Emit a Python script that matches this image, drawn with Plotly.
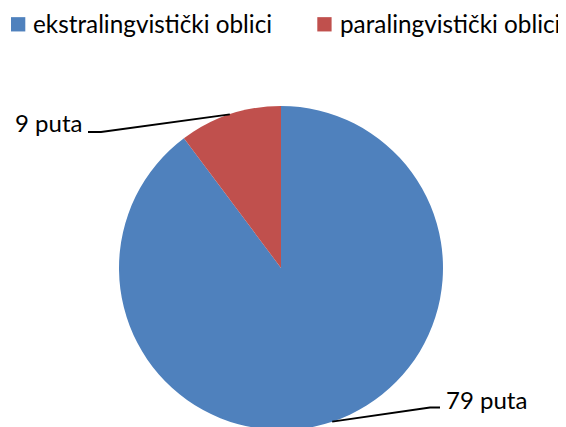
import math
import plotly.graph_objects as go

categories = ["ekstralingvistički oblici", "paralingvistički oblici"]
values = [79, 9]
label_texts = ["79 puta", "9 puta"]
colors = ["#4F81BD", "#C0504D"]

FONT = "Lato, Liberation Sans, Arial"
W, H = 566, 427
cx, cy, R = 273, 260, 162  # pie centre / radius in figure px (from top-left)


def P(x, y):
    """figure px (from top-left) -> paper coords"""
    return x / W, 1 - y / H


fig = go.Figure(go.Pie(
    labels=categories, values=values, sort=False, direction="clockwise",
    rotation=0, marker=dict(colors=colors, line=dict(width=0)),
    textinfo="none", hoverinfo="label+value", showlegend=False,
    domain=dict(x=[(cx - R) / W, (cx + R) / W],
                y=[1 - (cy + R) / H, 1 - (cy - R) / H]),
))

annotations, shapes = [], []

# --- data labels with leader lines ---
label_layout = [
    dict(tx=478.5, ty=391.5, anchor_x=432, anchor_y=399.5, elbow_x=422),
    dict(tx=40.5, ty=114.5, anchor_x=80, anchor_y=124, elbow_x=93),
]
total = sum(values)
start = 0.0
for v, txt, L in zip(values, label_texts, label_layout):
    mid = (start + v / 2) / total * 2 * math.pi
    start += v
    ex = cx + R * math.sin(mid)
    ey = cy - R * math.cos(mid)
    x0, y0 = P(ex, ey)
    x1, y1 = P(L["elbow_x"], L["anchor_y"])
    x2, y2 = P(L["anchor_x"], L["anchor_y"])
    shapes.append(dict(type="path", xref="paper", yref="paper",
                       path=f"M{x0},{y0} L{x1},{y1} L{x2},{y2}",
                       line=dict(color="black", width=1.8)))
    tx, ty = P(L["tx"], L["ty"])
    annotations.append(dict(x=tx, y=ty, xref="paper", yref="paper", text=txt,
                            showarrow=False, xanchor="center", yanchor="middle",
                            font=dict(size=24, color="black", family=FONT)))

# --- legend (swatch + text) ---
legend_x = [3, 309.3]
sw, sy = 14.3, 16.3
for cat, col, lx in zip(categories, colors, legend_x):
    a0, b0 = P(lx, sy - sw / 2)
    a1, b1 = P(lx + sw, sy + sw / 2)
    shapes.append(dict(type="rect", xref="paper", yref="paper",
                       x0=a0, y0=b0, x1=a1, y1=b1,
                       fillcolor=col, line=dict(width=0)))
    tx, ty = P(lx + sw + 7, 15.6)
    annotations.append(dict(x=tx, y=ty, xref="paper", yref="paper", text=cat,
                            showarrow=False, xanchor="left", yanchor="middle",
                            borderpad=0,
                            font=dict(size=24.3, color="black", family=FONT)))

fig.update_layout(
    width=W, height=H, margin=dict(l=0, r=0, t=0, b=0), autosize=False,
    paper_bgcolor="white", plot_bgcolor="white",
    font=dict(family=FONT, color="black"),
    annotations=annotations, shapes=shapes,
)

fig.write_html("out.html")
